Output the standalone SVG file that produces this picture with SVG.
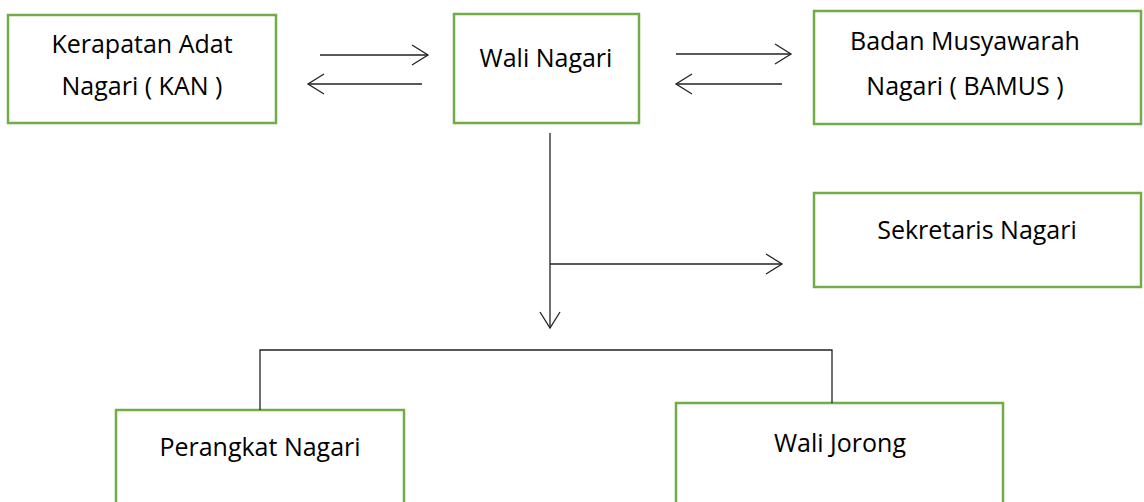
<svg xmlns="http://www.w3.org/2000/svg" width="1144" height="502" viewBox="0 0 1144 502">
<style>
.box{fill:#fff;stroke:#70AD47;stroke-width:2.5}
.lbl{font-family:"Open Sans","Liberation Sans",sans-serif;font-size:25px;fill:#000;text-anchor:middle}
.con{fill:none;stroke:#222;stroke-width:1.3}
</style>
<defs>
<marker id="arr" markerWidth="20" markerHeight="24" refX="17" refY="11" orient="auto" markerUnits="userSpaceOnUse">
<path d="M1,1 L17,11 L1,21" fill="none" stroke="#222" stroke-width="1.3"/>
</marker>
</defs>
<rect width="1144" height="502" fill="#fff"/>
<g id="kan">
<rect class="box" x="8" y="15" width="268" height="108"/>
<text class="lbl" x="142" y="53">Kerapatan Adat</text>
<text class="lbl" x="142" y="95">Nagari ( KAN )</text>
</g>
<g id="wali-nagari">
<rect class="box" x="454" y="14" width="185" height="109"/>
<text class="lbl" x="546" y="67">Wali Nagari</text>
</g>
<g id="bamus">
<rect class="box" x="814" y="11" width="327" height="113"/>
<text class="lbl" x="965" y="50">Badan Musyawarah</text>
<text class="lbl" x="965" y="95">Nagari ( BAMUS )</text>
</g>
<g id="sekretaris">
<rect class="box" x="814" y="193" width="327" height="94"/>
<text class="lbl" x="977" y="239">Sekretaris Nagari</text>
</g>
<g id="perangkat">
<rect class="box" x="116" y="410" width="288" height="120"/>
<text class="lbl" x="260" y="456">Perangkat Nagari</text>
</g>
<g id="wali-jorong">
<rect class="box" x="676" y="403" width="327" height="120"/>
<text class="lbl" x="840" y="452">Wali Jorong</text>
</g>
<g id="connectors">
<line class="con" x1="320" y1="55" x2="428" y2="55" marker-end="url(#arr)"/>
<line class="con" x1="422" y1="84" x2="308" y2="84" marker-end="url(#arr)"/>
<line class="con" x1="676" y1="54" x2="791" y2="54" marker-end="url(#arr)"/>
<line class="con" x1="782" y1="84" x2="676" y2="84" marker-end="url(#arr)"/>
<line class="con" x1="550" y1="133" x2="550" y2="328" marker-end="url(#arr)"/>
<line class="con" x1="550" y1="264" x2="782" y2="264" marker-end="url(#arr)"/>
<polyline class="con" points="260,410 260,350 832,350 832,403"/>
</g>
</svg>
